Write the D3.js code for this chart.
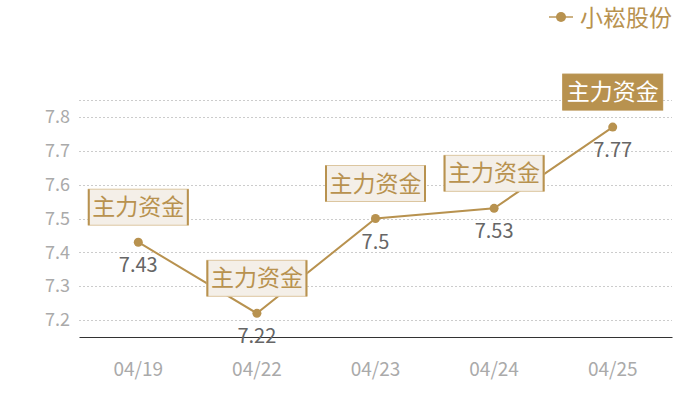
<!DOCTYPE html>
<html><head><meta charset="utf-8">
<script src="https://cdn.jsdelivr.net/npm/d3@7"></script>
<style>body{margin:0;background:#fff}svg{display:block}text{font-family:"Noto Sans CJK SC","Noto Sans",sans-serif}</style>
</head><body><svg id="c" width="700" height="400"></svg>
<script>
const categories = ["04/19","04/22","04/23","04/24","04/25"];
const values = [7.43,7.22,7.5,7.53,7.77];
const yTicks = [7.2,7.3,7.4,7.5,7.6,7.7,7.8];
const seriesName = "小崧股份";
const markLabel = "主力资金";
const highlightIndex = 4;

const gold = "#b8924f";
const svg = d3.select("#c");
const m = {l:79, r:28, t:100, b:63};
const W = 700, H = 400;
const x = d3.scaleBand().domain(categories).range([m.l, W-m.r]);
const y = d3.scaleLinear().domain([7.15,7.85]).range([H-m.b, m.t]);

// grid
const gridVals = yTicks.concat([7.85]);
svg.append("g").selectAll("line").data(gridVals).join("line")
  .attr("x1", m.l).attr("x2", W-m.r)
  .attr("y1", d=>Math.round(y(d))+0.5).attr("y2", d=>Math.round(y(d))+0.5)
  .attr("stroke","#ccc").attr("stroke-dasharray","2,2");

// y axis labels
const ya = svg.append("g").attr("transform",`translate(${m.l},0)`)
  .call(d3.axisLeft(y).tickValues(yTicks).tickSize(0).tickPadding(9).tickFormat(d3.format(".1f")));
ya.select(".domain").remove();
ya.selectAll("text").attr("fill","#aaa").attr("font-size",18).style("font-family",'"Noto Sans CJK SC",sans-serif');

// x axis
const xa = svg.append("g").attr("transform",`translate(0,${H-m.b})`)
  .call(d3.axisBottom(x).tickSize(0).tickPadding(26));
xa.select(".domain").attr("stroke","#333").attr("stroke-width",1.2);
xa.selectAll("text").attr("fill","#aaa").attr("font-size",19).style("font-family",'"Noto Sans CJK SC",sans-serif');

const cx = d => x(d) + x.bandwidth()/2;
const data = categories.map((c,i)=>({c, v:values[i], i}));

// line
svg.append("path").datum(data)
  .attr("d", d3.line().x(d=>cx(d.c)).y(d=>y(d.v)))
  .attr("fill","none").attr("stroke",gold).attr("stroke-width",2);

// dots
svg.append("g").selectAll("circle").data(data).join("circle")
  .attr("cx", d=>cx(d.c)).attr("cy", d=>y(d.v)).attr("r",4.5).attr("fill",gold);

// value labels
svg.append("g").selectAll("text").data(data).join("text")
  .attr("x", d=>cx(d.c)).attr("y", d=>y(d.v)+30)
  .attr("text-anchor","middle").attr("font-size",20).attr("fill","#666")
  .text(d=>d.v);

// mark boxes
const bw = 100, bh = 36, gap = 17;
const g = svg.append("g").selectAll("g").data(data).join("g")
  .attr("transform", d=>`translate(${cx(d.c)-bw/2},${y(d.v)-gap-bh})`);
g.append("rect").attr("width",bw).attr("height",bh)
  .attr("fill", d=>d.i===highlightIndex?gold:"#f4efe8")
  .attr("stroke", d=>d.i===highlightIndex?gold:"#dcc6a0").attr("stroke-width",1);
g.filter(d=>d.i!==highlightIndex).append("line").attr("x1",0.5).attr("x2",0.5).attr("y1",0).attr("y2",bh).attr("stroke",gold).attr("stroke-width",2);
g.filter(d=>d.i!==highlightIndex).append("line").attr("x1",bw-0.5).attr("x2",bw-0.5).attr("y1",0).attr("y2",bh).attr("stroke",gold).attr("stroke-width",2);
g.append("text").attr("x",bw/2).attr("y",bh/2+8).attr("text-anchor","middle")
  .attr("font-size",23).attr("fill", d=>d.i===highlightIndex?"#fff":gold).text(markLabel);

// legend
const lg = svg.append("g").attr("transform","translate(549,17)");
lg.append("line").attr("x1",0).attr("x2",24).attr("stroke",gold).attr("stroke-width",2).attr("opacity",0.7);
lg.append("circle").attr("cx",12).attr("r",5).attr("fill",gold);
lg.append("text").attr("x",31).attr("y",9).attr("font-size",23).attr("fill",gold).text(seriesName);
</script></body></html>
